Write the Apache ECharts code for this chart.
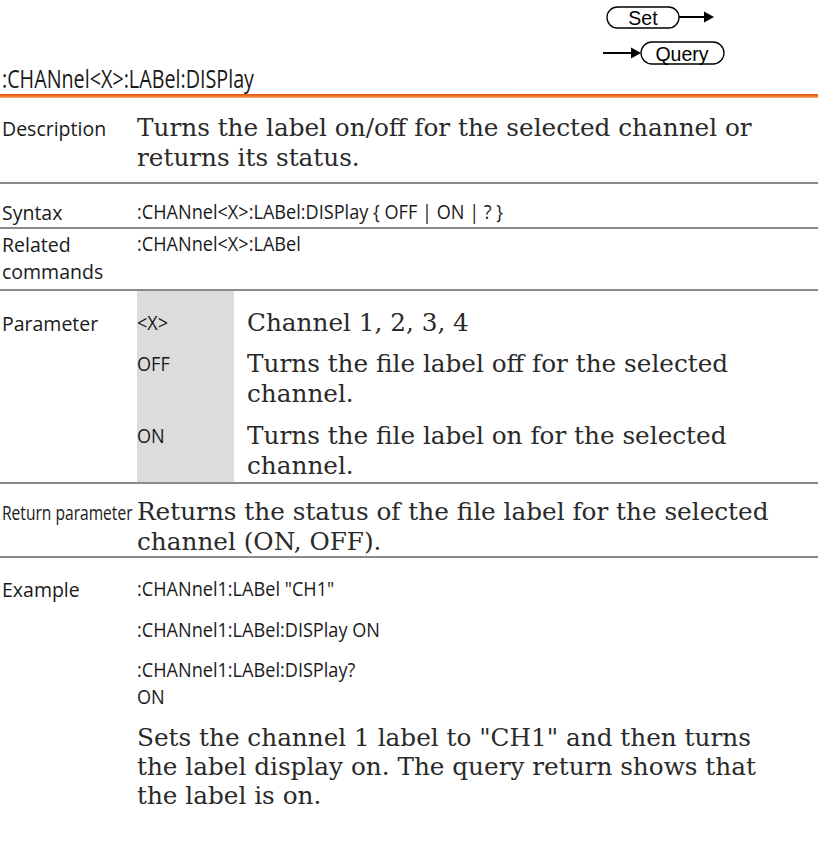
<!DOCTYPE html>
<html>
<head>
<meta charset="utf-8">
<script src="https://cdn.jsdelivr.net/npm/echarts@6/dist/echarts.min.js"></script>
<style>
html,body{margin:0;padding:0;background:#fff;}
#c{width:818px;height:858px;}
</style>
</head>
<body>
<div id="c"></div>
<script>
// ---- content ----
var titleText = ':CHANnel<X>:LABel:DISPlay';
var setLabel = 'Set';
var queryLabel = 'Query';
var descLabel = 'Description';
var descLines = ['Turns the label on/off for the selected channel or', 'returns its status.'];
var syntaxLabel = 'Syntax';
var syntaxLines = [':CHANnel<X>:LABel:DISPlay { OFF | ON | ? }'];
var relatedLabel = ['Related', 'commands'];
var relatedLines = [':CHANnel<X>:LABel'];
var paramLabel = 'Parameter';
var paramNames = ['<X>', 'OFF', 'ON'];
var paramDescs = [['Channel 1, 2, 3, 4'], ['Turns the file label off for the selected', 'channel.'], ['Turns the file label on for the selected', 'channel.']];
var returnLabel = 'Return parameter';
var returnLines = ['Returns the status of the file label for the selected', 'channel (ON, OFF).'];
var exampleLabel = 'Example';
var exampleCmds = [[':CHANnel1:LABel "CH1"'], [':CHANnel1:LABel:DISPlay ON'], [':CHANnel1:LABel:DISPlay?', 'ON']];
var exampleNote = ['Sets the channel 1 label to "CH1" and then turns', 'the label display on. The query return shows that', 'the label is on.'];

// ---- styles ----
var SANS = "'Open Sans','Noto Sans',sans-serif";
var SERIF = "'DejaVu Serif',serif";
var INK = '#1a1a1a';
var LABEL_SIZE = 19.5, VAL_SIZE = 19.5, VAL_SX = 0.93, SERIF_SIZE = 24, SERIF_SX = 1.03;
var X_LABEL = 2, X_VAL = 137, X_SUB = 247;

var g = [];
function txt(x, y, s, font, size, sx, extra) {
  var o = { type: 'text', x: x, y: y, scaleX: sx || 1, style: { text: s, fill: INK, font: size + 'px ' + font, textVerticalAlign: 'middle', verticalAlign: 'middle' } };
  if (extra) for (var k in extra) o.style[k] = extra[k];
  g.push(o);
}
function label(y, s, sx) { txt(X_LABEL, y, s, SANS, LABEL_SIZE, sx || 1); }
function sans(x, y, s) { txt(x, y, s, SANS, VAL_SIZE, VAL_SX); }
function serif(x, y, s) { txt(x, y, s, SERIF, SERIF_SIZE, SERIF_SX, { fill: '#2a2a2a' }); }
function hline(y, color, w) {
  g.push({ type: 'rect', shape: { x: 0, y: y - w / 2, width: 818, height: w }, style: { fill: color } });
}

// header
txt(X_LABEL, 79, titleText, SANS, 25, 0.79);
g.push({ type: 'rect', shape: { x: 0, y: 94, width: 818, height: 4 }, style: { fill: new echarts.graphic.LinearGradient(0, 0, 0, 1, [{ offset: 0, color: '#e2530f' }, { offset: 0.6, color: '#ee7a2a' }, { offset: 1, color: '#f8b888' }]) } });

// Set / Query buttons
var BTN = "'Liberation Sans',Arial,sans-serif";
g.push({ type: 'rect', shape: { x: 607, y: 7, width: 72, height: 21, r: 10.5 }, style: { fill: '#fff', stroke: '#000', lineWidth: 1.3 } });
txt(643, 17.5, setLabel, BTN, 19.5, 1, { textAlign: 'center', align: 'center', fill: '#000' });
g.push({ type: 'line', shape: { x1: 679, y1: 17, x2: 706, y2: 17 }, style: { stroke: '#000', lineWidth: 2 } });
g.push({ type: 'polygon', shape: { points: [[704, 11.5], [714, 17], [704, 22.5]] }, style: { fill: '#000' } });
g.push({ type: 'line', shape: { x1: 603, y1: 53, x2: 633, y2: 53 }, style: { stroke: '#000', lineWidth: 2 } });
g.push({ type: 'polygon', shape: { points: [[631, 47.5], [641, 53], [631, 58.5]] }, style: { fill: '#000' } });
g.push({ type: 'rect', shape: { x: 641, y: 42, width: 83, height: 22, r: 11 }, style: { fill: '#fff', stroke: '#000', lineWidth: 1.3 } });
txt(682, 53.5, queryLabel, BTN, 19.5, 1, { textAlign: 'center', align: 'center', fill: '#000' });

var SEP = '#8a8a8a';
// Description
label(128, descLabel);
descLines.forEach(function (s, i) { serif(X_VAL, 128 + i * 29.5, s); });
hline(183, SEP, 2);
// Syntax
label(212, syntaxLabel);
syntaxLines.forEach(function (s) { sans(X_VAL, 212, s); });
hline(228, SEP, 2);
// Related
relatedLabel.forEach(function (s, i) { label(244 + i * 27, s); });
relatedLines.forEach(function (s, i) { sans(X_VAL, 244 + i * 27, s); });
hline(290, SEP, 2);
// Parameter
g.push({ type: 'rect', shape: { x: 137, y: 291, width: 97, height: 191 }, style: { fill: '#dcdcdc' } });
label(323, paramLabel);
var py = [323, 364, 436];
paramNames.forEach(function (n, i) {
  sans(X_VAL, py[i], n);
  paramDescs[i].forEach(function (s, j) { serif(X_SUB, py[i] + j * 29.5, s); });
});
hline(483, SEP, 2);
// Return
label(512, returnLabel, 0.8);
returnLines.forEach(function (s, i) { serif(X_VAL, 512 + i * 29.5, s); });
hline(557, SEP, 2);
// Example
label(589, exampleLabel);
var ey = [589, 630, 670];
exampleCmds.forEach(function (arr, i) {
  arr.forEach(function (s, j) { sans(X_VAL, ey[i] + j * 27, s); });
});
exampleNote.forEach(function (s, i) { serif(X_VAL, 738 + i * 29, s); });

var chart = echarts.init(document.getElementById('c'), null, { renderer: 'svg', width: 818, height: 858 });
chart.setOption({ backgroundColor: '#fff', animation: false, graphic: { elements: g } });
</script>
</body>
</html>
